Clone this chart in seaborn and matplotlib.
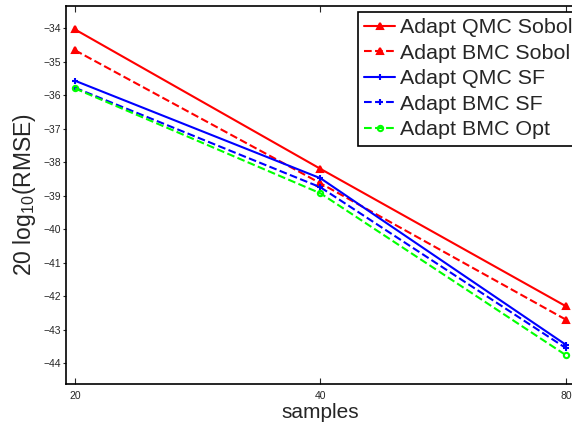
import numpy as np
import pandas as pd
import matplotlib
matplotlib.use("Agg")
import matplotlib.pyplot as plt
import seaborn as sns

samples = [20, 40, 80]
qmc_sobol = [-34.04, -38.20, -42.30]
bmc_sobol = [-34.66, -38.63, -42.70]
qmc_sf = [-35.57, -38.48, -43.45]
bmc_sf = [-35.78, -38.75, -43.55]
bmc_opt = [-35.80, -38.93, -43.76]
labels = ["Adapt QMC Sobol", "Adapt BMC Sobol", "Adapt QMC SF", "Adapt BMC SF", "Adapt BMC Opt"]
yticks = [-34, -35, -36, -37, -38, -39, -40, -41, -42, -43, -44]

sns.set_style("ticks")
plt.rcParams['font.family'] = ['Liberation Sans', 'DejaVu Sans']
plt.rcParams['mathtext.fontset'] = 'custom'
plt.rcParams['mathtext.rm'] = 'Liberation Sans'
plt.rcParams['mathtext.it'] = 'Liberation Sans'

W, H = 572, 423
fig = plt.figure(figsize=(W / 100, H / 100), dpi=100)
left, right, top, bottom = 66, 575, 6, 383.7
ax = fig.add_axes([left / W, 1 - bottom / H, (right - left) / W, (bottom - top) / H])

styles = [
    (qmc_sobol, '#ff0000', '-', '^', 'full', 4.5),
    (bmc_sobol, '#ff0000', '--', '^', 'full', 4.5),
    (qmc_sf, '#0000ff', '-', '+', 'full', 5),
    (bmc_sf, '#0000ff', '--', '+', 'full', 5),
    (bmc_opt, '#00ff00', '--', 'o', 'none', 3.8),
]
for (vals, col, ls, mk, fill, ms), lab in zip(styles, labels):
    df = pd.DataFrame({"samples": samples, "val": vals})
    sns.lineplot(data=df, x="samples", y="val", ax=ax, color=col, linestyle=ls,
                 marker=mk, markersize=ms,
                 markeredgewidth=1.5, fillstyle=fill, markeredgecolor=col,
                 linewidth=1.5, label=lab, dashes=False if ls == '-' else (3.2, 2.4))

ax.set_xscale('log')
px_per_oct = 245.5
ax.set_xlim(20 / 2 ** (9 / px_per_oct), 80 * 2 ** (9 / px_per_oct))
ax.set_ylim(-44.61, -33.34)
ax.set_xticks(samples)
ax.set_xticklabels([str(s) for s in samples])
ax.xaxis.set_minor_locator(matplotlib.ticker.NullLocator())
ax.set_yticks(yticks)
ax.set_yticklabels([f"\u2212{abs(t)}" for t in yticks])
ax.tick_params(axis='x', direction='in', length=4, width=0.8, labelsize=7.5, pad=5, top=True)
ax.tick_params(axis='y', direction='out', length=2.5, width=0.8, labelsize=7.5, pad=1)
for s in ax.spines.values():
    s.set_linewidth(1.2)
    s.set_color('black')
    s.set_visible(True)

ax.set_xlabel("samples", fontsize=15)
ax.xaxis.set_label_coords(0.5 * (320.7 - left) / (right - left) * 2, -(418 - bottom) / (bottom - top))
ax.xaxis.label.set_va('baseline')
ax.set_ylabel("20 log$_{10}$(RMSE)", fontsize=16.5, labelpad=4)

leg = ax.legend(loc='upper left', bbox_to_anchor=(358 / W, 1 - 12 / H), bbox_transform=fig.transFigure,
                fontsize=15.4, frameon=True, fancybox=False, framealpha=1, edgecolor='black',
                borderpad=0.3, labelspacing=0.3, handlelength=1.45, handletextpad=0.23,
                borderaxespad=0)
leg.get_frame().set_linewidth(1.2)

fig.savefig("out.png", dpi=100)
